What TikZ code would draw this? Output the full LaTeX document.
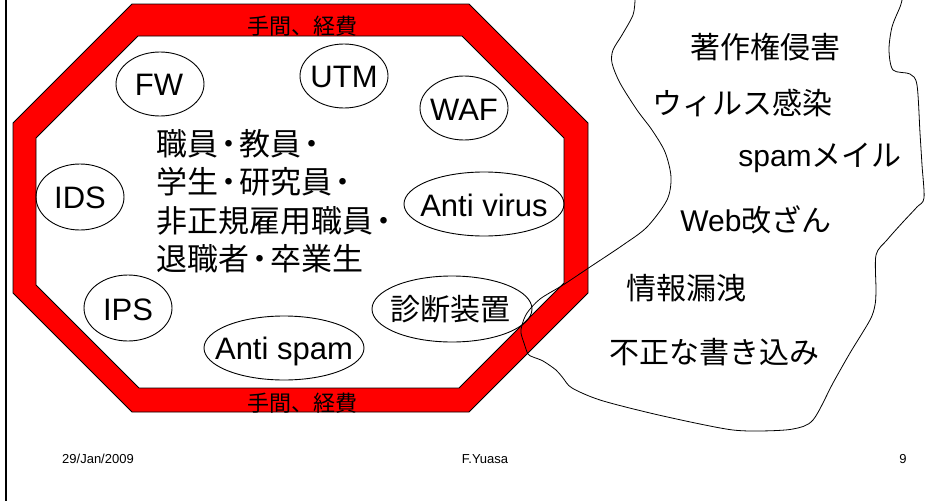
\documentclass[tikz,border=0pt]{standalone}
\usepackage{fontspec}
\setmainfont{Liberation Sans}
\newfontfamily\jp{Noto Sans CJK JP}
\newcommand\myndot{\kern-5pt・\kern-5pt}
\tikzset{
  thinline/.style={draw=black, line width=0.9pt},
  lat/.style={font=\fontsize{31}{31}\selectfont, anchor=base, inner sep=0pt},
  jpbig/.style={font=\jp\fontsize{30}{30}\selectfont, anchor=base, inner sep=0pt},
  band/.style={font=\jp\fontsize{22}{22}\selectfont, anchor=base, inner sep=0pt},
  foot/.style={font=\fontsize{13}{13}\selectfont, anchor=base, inner sep=0pt},
}
\begin{document}
\begin{tikzpicture}[x=1pt,y=-1pt]
\useasboundingbox (0,0) rectangle (951,501);
\fill[white] (0,0) rectangle (951,501);
% left border line
\draw[line width=2pt] (5.5,0) -- (5.5,501);
% octagon ring
\path[fill=red, draw=black, line width=0.8pt, even odd rule]
  (132,4) -- (469,4) -- (588,123) -- (588,293) -- (469,412) -- (132,412) -- (13,293) -- (13,123) -- cycle
  (138,36) -- (462,36) -- (564,138) -- (564,283) -- (459,388) -- (139,388) -- (36,285) -- (36,138) -- cycle;
\node[band] (costtop) at (302,34) {手間、経費};
\node[band] (costbot) at (302,411) {手間、経費};
% ellipses
\node[lat] (fw) at (159,95) {FW};
\draw[thinline] (160,84) ellipse [x radius=44, y radius=32];
\node[lat] (utm) at (344,87) {UTM};
\draw[thinline] (344,76) ellipse [x radius=44, y radius=32];
\node[lat] (waf) at (464,120) {WAF};
\draw[thinline] (464,108) ellipse [x radius=44, y radius=32];
\node[lat] (ids) at (80,208) {IDS};
\draw[thinline] (80,197) ellipse [x radius=44, y radius=33];
\node[lat] (av) at (484,216) {Anti virus};
\draw[thinline] (484,204) ellipse [x radius=80, y radius=32];
\node[lat] (ips) at (128,320) {IPS};
\draw[thinline] (128,308) ellipse [x radius=44, y radius=33];
\node[lat] (as) at (284,359) {Anti spam};
\draw[thinline] (284,348) ellipse [x radius=80, y radius=32];
\node[jpbig] (diag) at (450,320) {診断装置};
\draw[thinline] (452,309) ellipse [x radius=80, y radius=33];
% people
\node[font=\jp\fontsize{31}{38.5}\selectfont, align=left, anchor=base west, inner sep=0pt] (people) at (156,270.5)
  {職員\myndot 教員\myndot\\学生\myndot 研究員\myndot\\非正規雇用職員\myndot\\退職者\myndot 卒業生};
% outside blob
\draw[line width=0.8pt] plot[smooth, tension=0.5] coordinates {
  (635,0) (633,15) (622,35) (613,50) (612,63) (620,83) (637,110) (652,130)
  (665,152) (671,177) (667,200) (647,227) (623,245) (590,267) (563,285)
  (540,299) (527,313) (522,325) (521,333) (524,343) (528,354) (533,357)
  (543,361) (556,370) (563,378) (572,388) (600,400) (650,413) (700,424)
  (733,430) (760,431) (793,429) (813,420) (833,383) (850,353) (870,320)
  (875,305) (876,290) (876,255) (887,240) (903,222) (917,207) (924,198)
  (922,165) (920,133) (917,85) (910,74) (893,70) (889,50) (892,27) (900,7) (902,0)};
\node[jpbig] (t1) at (765,58) {著作権侵害};
\node[jpbig] (t2) at (742,114) {ウィルス感染};
\node[font=\fontsize{30}{30}\selectfont, anchor=base, inner sep=0pt] (t3) at (820,166) {spam{\jp メイル}};
\node[font=\fontsize{30}{30}\selectfont, anchor=base, inner sep=0pt] (t4) at (756,231) {Web{\jp 改ざん}};
\node[jpbig] (t5) at (686,299) {情報漏洩};
\node[jpbig] (t6) at (714,363) {不正な書き込み};
% footer
\node[foot] (date) at (98,463) {29/Jan/2009};
\node[foot] (author) at (485,463) {F.Yuasa};
\node[foot] (page) at (903,463) {9};
\end{tikzpicture}
\end{document}
